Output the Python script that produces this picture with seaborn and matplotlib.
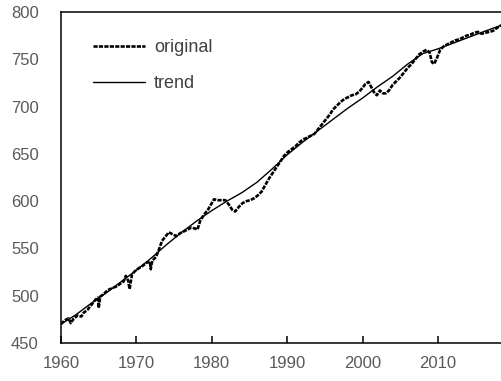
import numpy as np
import pandas as pd
import matplotlib
matplotlib.use("Agg")
import matplotlib.pyplot as plt
import seaborn as sns

# original series
orig_years = [1960.0, 1960.5, 1961.0, 1961.3, 1961.7, 1962.2, 1962.7, 1963.0, 1963.5, 1964.0,
              1964.6, 1964.9, 1965.0, 1965.2, 1965.7, 1966.2, 1966.8, 1967.4, 1967.9, 1968.3,
              1968.6, 1968.9, 1969.1, 1969.4, 1969.8, 1970.3, 1970.9, 1971.4, 1971.8, 1971.9,
              1972.1, 1972.6, 1973.0, 1973.4, 1973.9, 1974.3, 1974.8, 1975.3, 1975.8, 1976.3,
              1976.8, 1977.3, 1977.8, 1978.1, 1978.5, 1979.0, 1979.5, 1980.0, 1980.3, 1980.8,
              1981.3, 1981.8, 1982.3, 1982.7, 1983.1, 1983.6, 1984.1, 1984.6, 1985.1, 1985.6,
              1986.1, 1986.6, 1987.1, 1987.6, 1988.1, 1988.6, 1989.1, 1989.6, 1990.1, 1990.6,
              1991.1, 1991.6, 1992.1, 1992.6, 1993.1, 1993.6, 1994.1, 1994.6, 1995.1, 1995.6,
              1996.1, 1996.6, 1997.1, 1997.6, 1998.1, 1998.6, 1999.1, 1999.6, 2000.0, 2000.4,
              2000.8, 2001.2, 2001.6, 2001.9, 2002.3, 2002.7, 2003.1, 2003.5, 2004.0, 2004.5,
              2005.0, 2005.5, 2006.0, 2006.5, 2007.0, 2007.5, 2008.0, 2008.5, 2008.9, 2009.2,
              2009.5, 2009.9, 2010.3, 2010.8, 2011.3, 2011.8, 2012.3, 2012.8, 2013.3, 2013.8,
              2014.3, 2014.8, 2015.3, 2015.8, 2016.3, 2016.8, 2017.3, 2017.8, 2018.4]
orig_vals = [470, 474, 476, 471, 476, 479, 478, 482, 485, 490,
             496, 498, 487, 499, 502, 506, 508, 510, 513, 515,
             521, 516, 507, 522, 526, 529, 532, 535, 536, 528,
             537, 541, 549, 558, 563, 567, 565, 563, 566, 568,
             570, 572, 571, 570, 580, 586, 591, 598, 602, 601,
             601, 601, 596, 591, 589, 594, 598, 600, 601, 603,
             606, 610, 617, 624, 630, 636, 642, 648, 652, 655,
             658, 662, 665, 667, 669, 671, 676, 681, 686, 691,
             697, 701, 705, 708, 710, 712, 713, 716, 720, 724,
             726, 720, 714, 712, 717, 714, 714, 717, 723, 727,
             731, 736, 741, 745, 750, 755, 758, 760, 757, 747,
             745, 752, 760, 764, 766, 768, 770, 771, 773, 775,
             776, 778, 779, 777, 778, 779, 780, 783, 786]

# trend series
trend_years = [1960, 1962, 1964, 1966, 1968, 1970, 1972, 1974, 1976, 1978,
               1980, 1982, 1984, 1986, 1988, 1990, 1992, 1994, 1996, 1998,
               2000, 2002, 2004, 2006, 2008, 2010, 2012, 2014, 2016, 2018.4]
trend_vals = [470, 480, 492, 503, 515, 527, 540, 554, 567, 579,
              590, 600, 609, 620, 634, 649, 662, 674, 686, 698,
              709, 721, 732, 745, 756, 761, 767, 773, 779, 786]

x_ticks = [1960, 1970, 1980, 1990, 2000, 2010]
y_ticks = [450, 500, 550, 600, 650, 700, 750, 800]

df_orig = pd.DataFrame({"year": orig_years, "value": orig_vals})
df_trend = pd.DataFrame({"year": trend_years, "value": trend_vals})

sns.set_style("white")
plt.rcParams["font.family"] = ["Liberation Sans", "DejaVu Sans"]
plt.rcParams["lines.scale_dashes"] = False

fig = plt.figure(figsize=(5.02, 3.81), dpi=100)
ax = fig.add_axes([61 / 502, 38 / 381, 441 / 502, 331 / 381])

sns.lineplot(data=df_orig, x="year", y="value", ax=ax, color="black",
             linewidth=1.9, linestyle=(0, (3, 0.9)), label="original")
sns.lineplot(data=df_trend, x="year", y="value", ax=ax, color="black",
             linewidth=1.0, label="trend")

ax.set_xlim(1960, 2018.5)
ax.set_ylim(450, 800)
ax.set_xticks(x_ticks)
ax.set_yticks(y_ticks)
ax.set_xlabel("")
ax.set_ylabel("")

ax.tick_params(axis="x", bottom=True, direction="in", length=5, width=1.1, color="black",
               pad=9, labelsize=12, labelcolor="#595959")
ax.tick_params(axis="y", left=False, length=0, pad=16, labelsize=12, labelcolor="#595959")

for side in ["left", "top", "bottom"]:
    ax.spines[side].set_color("black")
    ax.spines[side].set_linewidth(1.1)
ax.spines["right"].set_visible(False)

leg = ax.legend(loc="upper left", bbox_to_anchor=(0.072, 0.918), frameon=False,
                fontsize=13, handlelength=2.9, handletextpad=0.5,
                labelspacing=1.05, borderpad=0, borderaxespad=0)
for t in leg.get_texts():
    t.set_color("#404040")

fig.savefig("out.png", dpi=100)
